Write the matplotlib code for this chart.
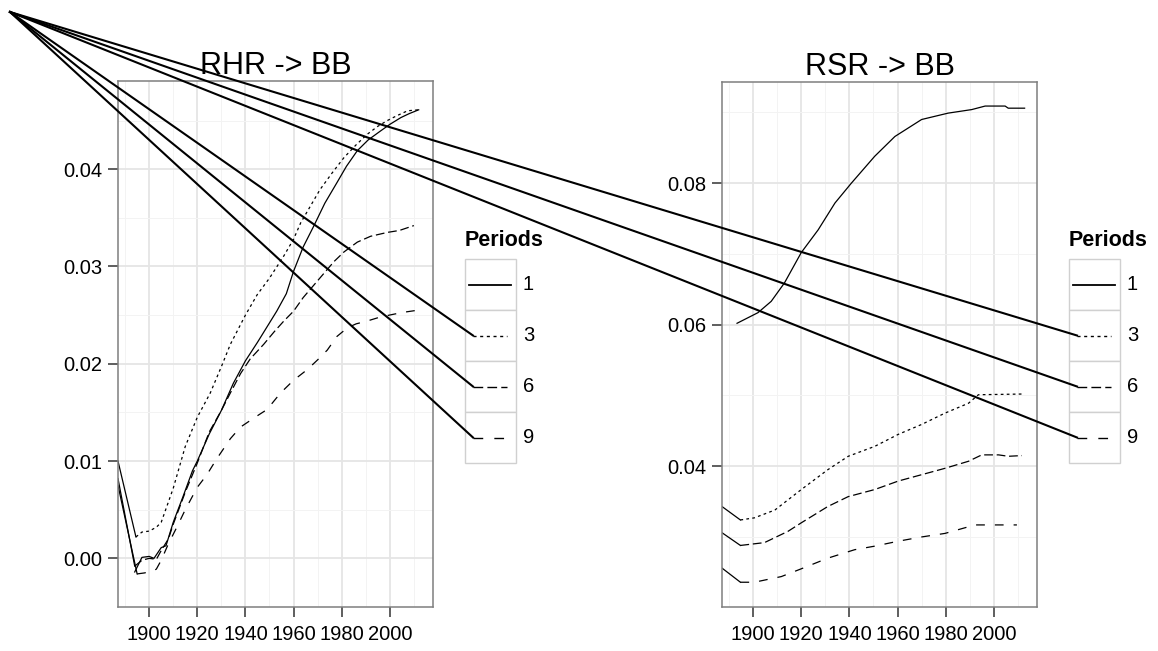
import matplotlib
matplotlib.use("Agg")
import matplotlib.pyplot as plt
from matplotlib.lines import Line2D
from matplotlib.patches import Rectangle
import numpy as np

plt.rcParams['font.family'] = ['Liberation Sans', 'DejaVu Sans']

W, H = 1158, 651

# ---- data: RHR -> BB ----
rhr_years_1 = [1894, 1897, 1900, 1902, 1905, 1907, 1910, 1914, 1918, 1920, 1925, 1930, 1935,
               1940, 1945, 1950, 1953, 1957, 1960, 1964, 1968.5, 1973, 1978, 1982, 1986.5,
               1991, 1996, 2000, 2004.6, 2008, 2012]
rhr_vals_1 = [-0.0014, 0.0001, 0.0002, 0.0000, 0.0011, 0.0013, 0.0037, 0.0063, 0.0090, 0.0100,
              0.0128, 0.0152, 0.0180, 0.0203, 0.0222, 0.0242, 0.0254, 0.0272, 0.0295, 0.0320,
              0.0342, 0.0365, 0.0386, 0.0403, 0.0419, 0.0430, 0.0439, 0.0446, 0.0453, 0.0457,
              0.0461]

rhr_years_3 = [1894.5, 1897, 1900, 1903, 1905, 1908, 1910, 1915, 1920, 1925.4, 1930, 1933.75,
               1940, 1944.9, 1950, 1956, 1960, 1963, 1967, 1971, 1976, 1981, 1986, 1990.7,
               1995, 1999, 2003, 2007.4, 2012]
rhr_vals_3 = [0.0022, 0.0027, 0.0028, 0.0032, 0.0037, 0.0058, 0.0072, 0.0115, 0.0145, 0.0170,
              0.0197, 0.0220, 0.0250, 0.0271, 0.0288, 0.0311, 0.0328, 0.0345, 0.0362, 0.0379,
              0.0396, 0.0412, 0.0425, 0.0436, 0.0444, 0.0450, 0.0455, 0.0460, 0.0461]

rhr_years_6 = [1894, 1897, 1900, 1903, 1905, 1908, 1910, 1915, 1920, 1925, 1930, 1933.75, 1938,
               1942, 1947.6, 1952, 1956, 1960, 1964, 1968.5, 1973, 1976.8, 1981, 1986.5, 1992,
               1999, 2004, 2010]
rhr_vals_6 = [-0.0008, -0.0002, 0.0000, -0.0001, 0.0008, 0.0020, 0.0035, 0.0068, 0.0098, 0.0130,
              0.0152, 0.0170, 0.0190, 0.0205, 0.0220, 0.0233, 0.0244, 0.0254, 0.0268, 0.0281,
              0.0294, 0.0305, 0.0315, 0.0325, 0.0331, 0.0335, 0.0337, 0.0342]

rhr_years_9 = [1895, 1898, 1901.7, 1903, 1905, 1908, 1911.5, 1915, 1920, 1924, 1928, 1933.75,
               1938, 1944, 1949, 1954.6, 1960, 1965.7, 1970, 1974, 1978, 1982.4, 1986, 1990.7,
               1996, 2001.8, 2006, 2011.5]
rhr_vals_9 = [-0.0016, -0.0015, -0.0013, -0.0011, -0.0002, 0.0015, 0.0032, 0.0050, 0.0073,
              0.0086, 0.0102, 0.0123, 0.0135, 0.0145, 0.0153, 0.0170, 0.0183, 0.0194, 0.0204,
              0.0214, 0.0228, 0.0237, 0.0241, 0.0244, 0.0248, 0.0251, 0.0253, 0.0255]

rhr_leadin = {"3": 0.0100, "6": 0.0082, "9": 0.0075}

# ---- data: RSR -> BB ----
rsr_years_1 = [1893.3, 1902, 1907.5, 1913, 1920, 1927, 1934, 1940.8, 1950.5, 1958.9, 1970,
               1981, 1990.8, 1996.4, 2004.7, 2006, 2012.8]
rsr_vals_1 = [0.0602, 0.0617, 0.0633, 0.0659, 0.0702, 0.0734, 0.0772, 0.0800, 0.0838, 0.0866,
              0.0890, 0.0899, 0.0904, 0.0909, 0.0909, 0.0906, 0.0906]

rsr_years_3 = [1894.7, 1900.5, 1909, 1920, 1931, 1939.5, 1950.5, 1960.3, 1970, 1979.7, 1989.5,
               1993.6, 2011.7]
rsr_vals_3 = [0.0324, 0.0327, 0.0338, 0.0367, 0.0395, 0.0414, 0.0428, 0.0445, 0.0459, 0.0475,
              0.0489, 0.0501, 0.0502]

rsr_years_6 = [1894.7, 1904.7, 1914.5, 1920, 1931, 1939.5, 1950.5, 1960.3, 1970, 1979.7,
               1989.5, 1995, 2002, 2006, 2011.7]
rsr_vals_6 = [0.0288, 0.0292, 0.0308, 0.0320, 0.0343, 0.0357, 0.0367, 0.0379, 0.0388, 0.0397,
              0.0407, 0.0416, 0.0416, 0.0414, 0.0415]

rsr_years_9 = [1894.7, 1900.5, 1911.7, 1920, 1931, 1942.2, 1950.5, 1960.3, 1970, 1979.7,
               1992.2, 1999, 2009.6]
rsr_vals_9 = [0.0236, 0.0236, 0.0244, 0.0255, 0.0270, 0.0282, 0.0287, 0.0294, 0.0300, 0.0305,
              0.0317, 0.0317, 0.0317]

rsr_leadin = {"3": 0.0343, "6": 0.0306, "9": 0.0256}

periods = ["1", "3", "6", "9"]
styles = {"1": "-", "3": (0, (2.2, 2.6)), "6": (0, (7, 3)), "9": (0, (7, 8))}


def fx(px):
    return px / W


def fy(py):
    return 1 - py / H


fig = plt.figure(figsize=(W / 100, H / 100), dpi=100)

panels = [
    dict(title="RHR -> BB", box=(118, 81, 433, 607), ylim=(-0.00448, 0.04906),
         yticks=[0.00, 0.01, 0.02, 0.03, 0.04], yminor=[-0.005, 0.005, 0.015, 0.025, 0.035, 0.045],
         ylabels=["0.00", "0.01", "0.02", "0.03", "0.04"],
         series={"1": (rhr_years_1, rhr_vals_1), "3": (rhr_years_3, rhr_vals_3),
                 "6": (rhr_years_6, rhr_vals_6), "9": (rhr_years_9, rhr_vals_9)},
         leadin=rhr_leadin, legend_x=465),
    dict(title="RSR -> BB", box=(722, 82, 1037, 607), ylim=(0.0201, 0.0943),
         yticks=[0.04, 0.06, 0.08], yminor=[0.03, 0.05, 0.07, 0.09],
         ylabels=["0.04", "0.06", "0.08"],
         series={"1": (rsr_years_1, rsr_vals_1), "3": (rsr_years_3, rsr_vals_3),
                 "6": (rsr_years_6, rsr_vals_6), "9": (rsr_years_9, rsr_vals_9)},
         leadin=rsr_leadin, legend_x=1069),
]

xmaj = [1900, 1920, 1940, 1960, 1980, 2000]
xmin = [1890, 1910, 1930, 1950, 1970, 1990, 2010]
xlim = (1887.05, 2017.95)

corner = (10, 12)
key_ends = []

for p in panels:
    x0, y0, x1, y1 = p["box"]
    ax = fig.add_axes([fx(x0), fy(y1), (x1 - x0) / W, (y1 - y0) / H])
    ax.set_xlim(*xlim)
    ax.set_ylim(*p["ylim"])
    ax.set_xticks(xmaj)
    ax.set_xticks(xmin, minor=True)
    ax.set_yticks(p["yticks"])
    ax.set_yticks(p["yminor"], minor=True)
    ax.set_yticklabels(p["ylabels"])
    ax.grid(which="major", color="#e5e5e5", lw=1.3)
    ax.grid(which="minor", color="#f3f3f3", lw=0.7)
    ax.set_axisbelow(True)
    ax.tick_params(which="major", length=7, width=1.1, color="#333333",
                   labelsize=14.5, pad=4, labelcolor="black")
    ax.tick_params(axis="x", which="major", pad=6)
    ax.tick_params(which="minor", length=0)
    for s in ax.spines.values():
        s.set_color("#7f7f7f")
        s.set_linewidth(1.1)
    ax.set_title(p["title"], fontsize=22, pad=3)

    for k in periods:
        xs, ys = p["series"][k]
        ax.plot(xs, ys, color="black", lw=0.9, linestyle=styles[k])
        if k in p["leadin"]:
            ax.plot([xlim[0], xs[0]], [p["leadin"][k], ys[0]], color="black", lw=0.9)

    # legend drawn like ggplot's keys
    lx = p["legend_x"]
    ktop = 259
    kh = 51
    kw = 51
    fig.text(fx(lx), fy(240), "Periods", fontsize=15.5, fontweight="bold",
             ha="left", va="center")
    for i, k in enumerate(periods):
        top = ktop + i * kh
        fig.add_artist(Rectangle((fx(lx), fy(top + kh)), kw / W, kh / H,
                                 transform=fig.transFigure, facecolor="white",
                                 edgecolor="#d0d0d0", lw=1.0))
        sx0 = lx + (4 if k == "1" else 8)
        sx1 = lx + kw - (5 if k == "1" else 9)
        cy = top + kh / 2
        fig.add_artist(Line2D([fx(sx0), fx(sx1)], [fy(cy), fy(cy)],
                              transform=fig.transFigure, color="black",
                              lw=1.3 if k == "1" else 1.0, linestyle=styles[k]))
        fig.text(fx(lx + kw + 7), fy(cy), k, fontsize=14.5, ha="left", va="center")
        if k != "1":
            key_ends.append((sx0, cy))

# stray segments from the top-left corner to the legend keys
for ex, ey in key_ends:
    fig.add_artist(Line2D([fx(corner[0]), fx(ex)], [fy(corner[1]), fy(ey)],
                          transform=fig.transFigure, color="black", lw=1.5))

fig.savefig("out.png", dpi=100)
